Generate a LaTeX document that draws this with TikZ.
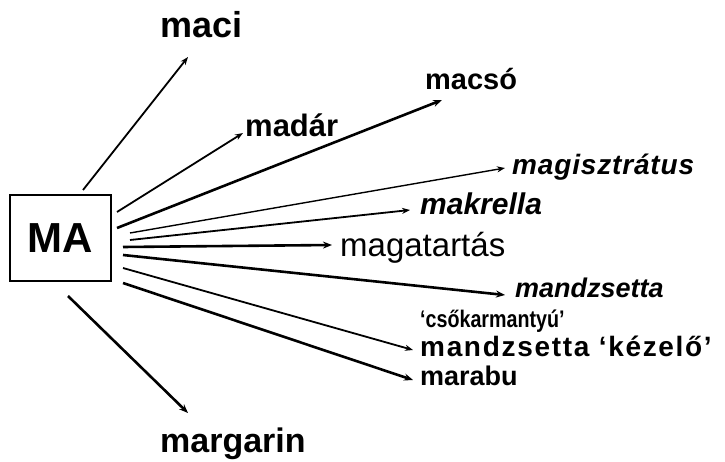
\documentclass[tikz,border=0pt]{standalone}
\usepackage{fontspec}
\setmainfont{Liberation Sans}
\usetikzlibrary{arrows.meta}
\tikzset{
  word/.style={anchor=base west, inner sep=0pt, font=\bfseries},
  link/.style={line width=1.8pt, -{Stealth[length=8pt,width=6pt]}},
  thicklink/.style={line width=2.6pt, -{Stealth[length=9pt,width=7pt]}},
}
\newcommand{\fsz}[1]{\fontsize{#1}{#1}\selectfont}
\begin{document}
\begin{tikzpicture}[x=1pt,y=-1pt]
  \useasboundingbox (0,0) rectangle (725,462);

  % central syllable
  \node[draw, line width=1.5pt, minimum width=101pt, minimum height=86pt,
        inner sep=0pt, font=\bfseries\fsz{42}] (ma) at (60.5,238) {MA};

  % words starting with MA
  \node[word, font=\bfseries\fsz{36}] (maci) at (160,38) {maci};
  \node[word, font=\bfseries\fsz{29}] (macso) at (425,90) {macsó};
  \node[word, font=\bfseries\fsz{31}] (madar) at (245,137) {madár};
  \node[word, font=\bfseries\itshape\fsz{28}\addfontfeatures{LetterSpace=3}] (magiszt) at (512,175) {magisztrátus};
  \node[word, font=\bfseries\itshape\fsz{30}] (makrella) at (420,215) {makrella};
  \node[word, font=\mdseries\fsz{33}] (magatart) at (340,257) {magatartás};
  \node[word, font=\bfseries\itshape\fsz{27}] (mandzs1) at (515,297) {mandzsetta};
  \node[word, font=\bfseries\fsz{24}\addfontfeatures{FakeStretch=0.82}] (csokarm) at (420,327) {‘csőkarmantyú’};
  \node[word, font=\bfseries\fsz{28}\addfontfeatures{LetterSpace=6}] (mandzs2) at (420,356) {mandzsetta ‘kézelő’};
  \node[word, font=\bfseries\fsz{27}] (marabu) at (420,385) {marabu};
  \node[word, font=\bfseries\fsz{34}] (margarin) at (160,452) {margarin};

  % start and end points of the arrows
  \coordinate (s-maci) at (83,190);      \coordinate (e-maci) at (188,57);
  \coordinate (s-macso) at (117,228);    \coordinate (e-macso) at (442,100);
  \coordinate (s-madar) at (117,212);    \coordinate (e-madar) at (243,133);
  \coordinate (s-magiszt) at (130,233);  \coordinate (e-magiszt) at (505,168);
  \coordinate (s-makrella) at (130,240); \coordinate (e-makrella) at (410,210);
  \coordinate (s-magatart) at (123,247); \coordinate (e-magatart) at (332,245);
  \coordinate (s-mandzs1) at (123,255);  \coordinate (e-mandzs1) at (505,295);
  \coordinate (s-mandzs2) at (123,268);  \coordinate (e-mandzs2) at (413,350);
  \coordinate (s-marabu) at (123,283);   \coordinate (e-marabu) at (413,380);
  \coordinate (s-margarin) at (68,296);  \coordinate (e-margarin) at (188,413);

  \draw[link] (s-maci) -- (e-maci);
  \draw[thicklink] (s-macso) -- (e-macso);
  \draw[link] (s-madar) -- (e-madar);
  \draw[link, line width=1.4pt] (s-magiszt) -- (e-magiszt);
  \draw[link] (s-makrella) -- (e-makrella);
  \draw[thicklink] (s-magatart) -- (e-magatart);
  \draw[thicklink] (s-mandzs1) -- (e-mandzs1);
  \draw[link] (s-mandzs2) -- (e-mandzs2);
  \draw[thicklink] (s-marabu) -- (e-marabu);
  \draw[thicklink] (s-margarin) -- (e-margarin);
\end{tikzpicture}
\end{document}
